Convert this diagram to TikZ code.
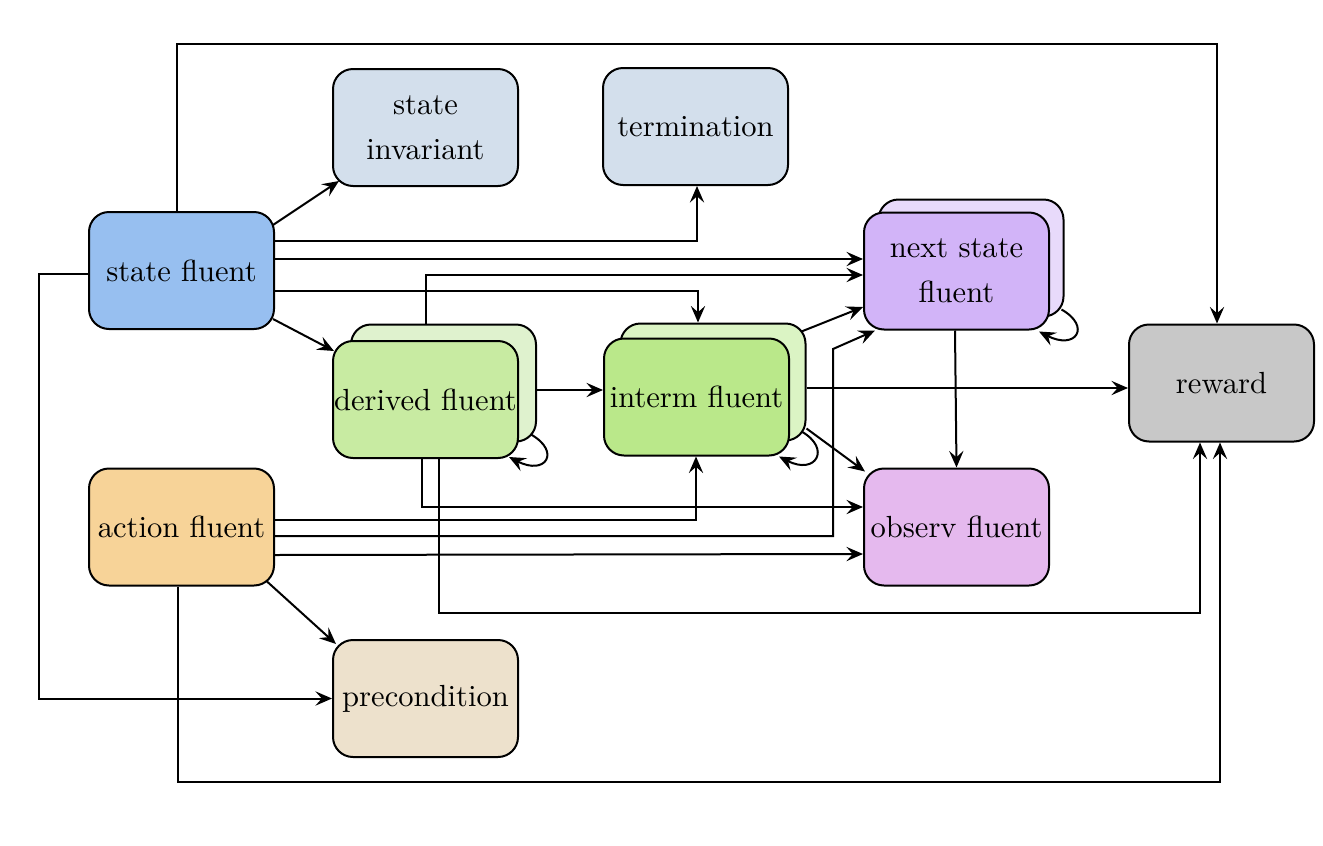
\documentclass[tikz,border=0pt]{standalone}
\usetikzlibrary{arrows.meta,calc}
\definecolor{sfc}{HTML}{97BFF0}
\definecolor{sic}{HTML}{D3DFEC}
\definecolor{nsc}{HTML}{D2B4F8}
\definecolor{nsbc}{HTML}{E8DAFB}
\definecolor{rwc}{HTML}{C8C8C8}
\definecolor{dfc}{HTML}{C8EBA2}
\definecolor{dfbc}{HTML}{DFF2CE}
\definecolor{ifc}{HTML}{BAE88A}
\definecolor{ifbc}{HTML}{DBF4C4}
\definecolor{afc}{HTML}{F7D398}
\definecolor{obc}{HTML}{E5B9EE}
\definecolor{pcc}{HTML}{EDE1CC}
\tikzset{
  box/.style={draw, line width=0.7pt, rounded corners=7pt, minimum width=64.75pt,
    minimum height=40.95pt, inner sep=0pt, align=center,
    font=\fontsize{10.7pt}{12.8pt}\selectfont},
  arr/.style={line width=0.7pt, -{Stealth[length=5.8pt,width=5pt,inset=2.2pt]}}
}
\begin{document}
\begin{tikzpicture}[x=0.35pt,y=-0.35pt]
\useasboundingbox (0,0) rectangle (1323,846);
% nodes
\node[box,fill=sfc] (sf) at (181.5,270.5) {state fluent};
\node[box,fill=sic] (si) at (425.5,127.5) {state\\[3pt]invariant};
\node[box,fill=sic] (te) at (695.5,126.5) {termination};
\node[box,fill=nsbc] (nsb) at (971,258) {};
\node[box,fill=nsc] (ns) at (956.5,271) {next state\\[3pt]fluent};
\node[box,fill=rwc] (rw) at (1221.5,383) {reward};
\node[box,fill=dfbc] (dfb) at (443.5,383) {};
\node[box,fill=dfc] (df) at (425.5,399.5) {derived fluent};
\node[box,fill=ifbc] (ifb) at (713,382) {};
\node[box,fill=ifc] (if) at (696.5,397) {interm fluent};
\node[box,fill=afc] (af) at (181.5,527) {action fluent};
\node[box,fill=obc] (ob) at (956.5,527) {observ fluent};
\node[box,fill=pcc] (pc) at (425.5,698.5) {precondition};
% rails
\coordinate (r44) at (0,44);
\coordinate (r613) at (0,613);
\coordinate (r782) at (0,782);
\coordinate (e1) at (833,349);
% 1
\coordinate (a1) at ($(sf.north)+(-4.5,0)$);
\coordinate (a2) at ($(rw.north)+(-4.5,0)$);
\draw[arr] (a1) -- (a1 |- r44) -| (a2);
% 2
\draw[arr] ($(sf.north east)+(-2,14)$) -- ($(si.south west)+(7,-6)$);
% 3
\draw[arr] ($(sf.east)+(0,-29.5)$) -| ($(te.south)+(1.5,0)$);
% 4
\draw[arr] ($(sf.east)+(0,-11.5)$) -- ($(ns.west)+(0,-12)$);
% 5
\draw[arr] ($(df.north)+(0,-16)$) |- ($(ns.west)+(0,4)$);
% 6
\draw[arr] ($(sf.east)+(0,20.5)$) -| ($(ifb.north)+(-15,0)$);
% 7
\draw[arr] ($(sf.south east)+(-2,-11)$) -- ($(df.north west)+(2,11)$);
% 8
\draw[arr] ($(sf.west)+(0,3.5)$) -- ++(-49,0) |- (pc.west);
% 9
\draw[arr] ($(dfb.east)+(0,7)$) -- ($(if.west)+(0,-7)$);
% self loops
\coordinate (l1) at ($(dfb.south east)+(-6,-8)$);
\coordinate (l2) at ($(df.south east)+(-10,-2)$);
\draw[arr] (l1) .. controls ($(l1)+(30,17)$) and ($(l2)+(37,19)$) .. (l2);
\coordinate (m1) at ($(ifb.south east)+(-5,-10)$);
\coordinate (m2) at ($(if.south east)+(-11,0)$);
\draw[arr] (m1) .. controls ($(m1)+(30,17)$) and ($(m2)+(37,19)$) .. (m2);
\coordinate (n1) at ($(nsb.south east)+(-3,-8)$);
\coordinate (n2) at ($(ns.south east)+(-11,1)$);
\draw[arr] (n1) .. controls ($(n1)+(30,17)$) and ($(n2)+(37,19)$) .. (n2);
% 13
\draw[arr] ($(ifb.north east)+(-5,9)$) -- ($(ns.west)+(0,36)$);
% 14
\draw[arr] ($(ifb.east)+(0,6)$) -- ($(rw.west)+(0,5)$);
% 15
\draw[arr] ($(ifb.south east)+(0,-13)$) -- ($(ob.north west)+(2,4)$);
% 16
\draw[arr] ($(ns.south)+(-1.5,0)$) -- (ob.north);
% 17
\draw[arr] ($(df.south)+(-3.5,0)$) |- ($(ob.west)+(0,-20)$);
% 18
\coordinate (d1) at ($(df.south)+(13.5,0)$);
\coordinate (d2) at ($(rw.south)+(-21.5,0)$);
\draw[arr] (d1) -- (d1 |- r613) -| (d2);
% 19
\draw[arr] ($(af.east)+(0,-7)$) -| ($(if.south)+(-0.5,0)$);
% 20
\draw[arr] ($(af.east)+(0,9)$) -| (e1) -- ($(ns.south west)+(12,0)$);
% 21
\draw[arr] ($(af.east)+(0,28)$) -- ($(ob.west)+(0,27)$);
% 22
\draw[arr] ($(af.south east)+(-8,-5)$) -- ($(pc.north west)+(4,5)$);
% 23
\coordinate (f1) at ($(af.south)+(-3.5,0)$);
\coordinate (f2) at ($(rw.south)+(-1.5,0)$);
\draw[arr] (f1) -- (f1 |- r782) -| (f2);
\end{tikzpicture}
\end{document}
